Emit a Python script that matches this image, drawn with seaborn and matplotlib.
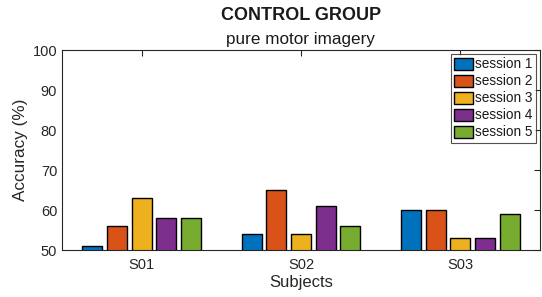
import numpy as np
import pandas as pd
import seaborn as sns
import matplotlib.pyplot as plt

subjects = ['S01', 'S02', 'S03']
sessions = ['session 1', 'session 2', 'session 3', 'session 4', 'session 5']
accuracy = {
    'session 1': [51, 54, 60],
    'session 2': [56, 65, 60],
    'session 3': [63, 54, 53],
    'session 4': [58, 61, 53],
    'session 5': [58, 56, 59],
}
colors = ['#0072BD', '#D95319', '#EDB120', '#7E2F8E', '#77AC30']

rows = []
for s in sessions:
    for subj, v in zip(subjects, accuracy[s]):
        rows.append({'Subject': subj, 'Session': s, 'Accuracy': v})
df = pd.DataFrame(rows)

sns.set_style('white')
plt.rcParams['font.family'] = ['Liberation Sans', 'DejaVu Sans']

fig = plt.figure(figsize=(5.42, 2.97), dpi=100)
ax = fig.add_axes([62 / 542, 1 - 250 / 297, 478 / 542, 200 / 297])

sns.barplot(data=df, x='Subject', y='Accuracy', hue='Session', order=subjects,
            hue_order=sessions, palette=colors, saturation=1, width=0.775, gap=0.19,
            edgecolor='black', linewidth=1.0, ax=ax)

ax.set_ylim(50, 100)
ax.set_xlim(-0.5, 2.5)
ax.set_yticks(np.arange(50, 101, 10))
ax.tick_params(direction='in', length=4, top=True, right=True, labelsize=10.5,
               color='#262626', labelcolor='#262626', width=0.8)
ax.tick_params(axis='x', pad=6)
for sp in ax.spines.values():
    sp.set_visible(True)
    sp.set_color('#262626')
    sp.set_linewidth(0.8)

ax.set_xlabel('Subjects', fontsize=12, color='#262626', labelpad=2)
ax.set_ylabel('Accuracy (%)', fontsize=12.3, color='#262626', labelpad=3)
ax.set_title('pure motor imagery', fontsize=12.3, color='#1a1a1a', pad=4)
fig.text(301 / 542, 1 - 15 / 297, 'CONTROL GROUP', ha='center', va='center',
         fontsize=13, fontweight='bold', color='#1a1a1a')

leg = ax.legend(loc='upper right', fontsize=9.8, frameon=True, fancybox=False,
                edgecolor='#262626', handlelength=1.4, handleheight=0.95,
                handletextpad=0.15, labelspacing=0.22, borderpad=0.25,
                borderaxespad=0.3)
leg.get_frame().set_linewidth(0.8)
for t in leg.get_texts():
    t.set_color('#1a1a1a')

fig.savefig('out.png', dpi=100)
